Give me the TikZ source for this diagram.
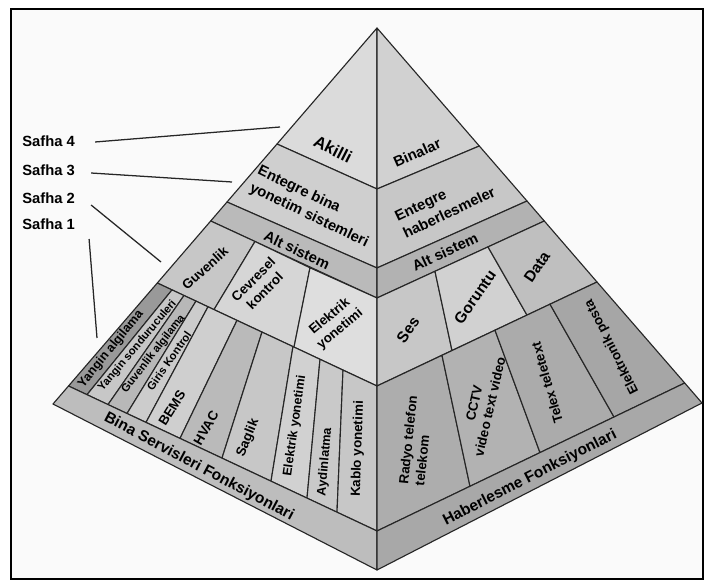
\documentclass[tikz,border=0pt]{standalone}
\usepackage{fontspec}
\setmainfont{Liberation Sans}
\tikzset{
  face/.style={fill=#1, draw=black!85, line width=0.8pt, line join=round},
  tag/.style={font=\fontsize{10.5}{13.5}\selectfont\bfseries, inner sep=0pt, align=center},
  small tag/.style={font=\fontsize{8}{9.5}\selectfont\bfseries, inner sep=0pt},
  mid tag/.style={font=\fontsize{9.5}{11.5}\selectfont\bfseries, inner sep=0pt, align=center},
  stage/.style={font=\fontsize{10.5}{12}\selectfont\bfseries, anchor=west, inner sep=0pt},
  leader/.style={draw=black!85, line width=0.9pt},
}

\begin{document}
\begin{tikzpicture}[x=0.025cm, y=-0.025cm]
  \useasboundingbox (0,0) rectangle (712,584);
  \draw[fill=black!2, line width=1.4pt] (11,9) rectangle (703,579);

  \coordinate (A) at (377,28);
  \coordinate (L) at (53,404);
  \coordinate (B) at (377,570);
  \coordinate (R) at (702,403);

  \coordinate (l1) at (277,144);
  \coordinate (l2) at (227,202);
  \coordinate (l3) at (210.7,221);
  \coordinate (l4) at (157.3,283);
  \coordinate (l5) at (68.5,386);
  \coordinate (c1) at (377,189);
  \coordinate (c2) at (377,268);
  \coordinate (c3) at (377,298);
  \coordinate (c4) at (377,386);
  \coordinate (c5) at (377,531);
  \coordinate (r1) at (479.3,146);
  \coordinate (r2) at (527,201);
  \coordinate (r3) at (544.3,221);
  \coordinate (r4) at (597,282);
  \coordinate (r5) at (684.7,383);

  % left face
  \draw[face=black!14] (A) -- (l1) -- (c1) -- cycle;
  \draw[face=black!19] (l1) -- (l2) -- (c2) -- (c1) -- cycle;
  \draw[face=black!27] (l2) -- (l3) -- (c3) -- (c2) -- cycle;
  \coordinate (g1t) at (255,241.5);
  \coordinate (g1b) at (214,309.6);
  \coordinate (g2t) at (310,267.8);
  \coordinate (g2b) at (294,347.1);
  \draw[face=black!22] (l3) -- (l4) -- (g1b) -- (g1t) -- cycle;
  \draw[face=black!16] (g1t) -- (g1b) -- (g2b) -- (g2t) -- cycle;
  \draw[face=black!13] (g2t) -- (g2b) -- (c4) -- (c3) -- cycle;

  \coordinate (p1) at (172,289.9);
  \coordinate (p2) at (184,295.5);
  \coordinate (p3) at (196,301.1);
  \coordinate (p4) at (208,306.8);
  \coordinate (p5) at (237,320.4);
  \coordinate (p6) at (262,332.1);
  \coordinate (p7) at (293,346.6);
  \coordinate (p8) at (320,359.3);
  \coordinate (p9) at (343,370.1);
  \coordinate (q1) at (87,394.7);
  \coordinate (q2) at (108,404.6);
  \coordinate (q3) at (127,413.5);
  \coordinate (q4) at (146,422.4);
  \coordinate (q5) at (180,438.4);
  \coordinate (q6) at (222,458.1);
  \coordinate (q7) at (271,481.2);
  \coordinate (q8) at (307,498.1);
  \coordinate (q9) at (337,512.2);
  \draw[face=black!40] (l4) -- (p1) -- (q1) -- (l5) -- cycle;
  \draw[face=black!22] (p1) -- (p2) -- (q2) -- (q1) -- cycle;
  \draw[face=black!28] (p2) -- (p3) -- (q3) -- (q2) -- cycle;
  \draw[face=black!20] (p3) -- (p4) -- (q4) -- (q3) -- cycle;
  \draw[face=black!19] (p4) -- (p5) -- (q5) -- (q4) -- cycle;
  \draw[face=black!27] (p5) -- (p6) -- (q6) -- (q5) -- cycle;
  \draw[face=black!22] (p6) -- (p7) -- (q7) -- (q6) -- cycle;
  \draw[face=black!18] (p7) -- (p8) -- (q8) -- (q7) -- cycle;
  \draw[face=black!21] (p8) -- (p9) -- (q9) -- (q8) -- cycle;
  \draw[face=black!22] (p9) -- (c4) -- (c5) -- (q9) -- cycle;
  \draw[face=black!26] (l5) -- (L) -- (B) -- (c5) -- cycle;

  % right face
  \coordinate (a1) at (435,271.3);
  \coordinate (a2) at (488,246.9);
  \coordinate (m1) at (452,350.5);
  \coordinate (m2) at (527,315.1);
  \coordinate (m3) at (442,355.3);
  \coordinate (m4) at (495,330.2);
  \coordinate (m5) at (550,304.2);
  \coordinate (h1) at (470,486.3);
  \coordinate (h2) at (540,452.6);
  \coordinate (h3) at (614,417);
  \draw[face=black!18] (A) -- (c1) -- (r1) -- cycle;
  \draw[face=black!22] (c1) -- (c2) -- (r2) -- (r1) -- cycle;
  \draw[face=black!30] (c2) -- (c3) -- (r3) -- (r2) -- cycle;
  \draw[face=black!22] (c3) -- (c4) -- (m1) -- (a1) -- cycle;
  \draw[face=black!18] (a1) -- (m1) -- (m2) -- (a2) -- cycle;
  \draw[face=black!25] (a2) -- (m2) -- (r4) -- (r3) -- cycle;
  \draw[face=black!32] (c4) -- (c5) -- (h1) -- (m3) -- cycle;
  \draw[face=black!30] (m3) -- (h1) -- (h2) -- (m4) -- cycle;
  \draw[face=black!33] (m4) -- (h2) -- (h3) -- (m5) -- cycle;
  \draw[face=black!35] (m5) -- (h3) -- (r5) -- (r4) -- cycle;
  \draw[face=black!34] (c5) -- (B) -- (R) -- (r5) -- cycle;

  % texts, left face
  \node[tag, font=\fontsize{12}{14}\selectfont\bfseries, rotate=-27] (akilli) at (333,149) {Akilli};
  \node[tag, align=left, rotate=-25.5] (entbina) at (313,207) {Entegre bina\\yonetim sistemleri};
  \node[tag, rotate=-25] (altL) at (297,250) {Alt sistem};
  \node[mid tag, rotate=42] (guvenlik) at (205,268) {Guvenlik};
  \node[mid tag, rotate=45] (cevresel) at (259,285) {Cevresel\\kontrol};
  \node[mid tag, rotate=40] (elekup) at (335,323) {Elektrik\\yonetimi};
  \node[small tag, font=\fontsize{9}{10}\selectfont\bfseries, rotate=51] (yangalg) at (111,349) {Yangin algilama};
  \node[small tag, rotate=50] (yangsond) at (137.5,346) {Yangin sonduruculeri};
  \node[small tag, rotate=52] (guvalg) at (153.5,354) {Guvenlik algilama};
  \node[small tag, rotate=55] (giris) at (169,361) {Giris Kontrol};
  \node[mid tag, rotate=58] (bems) at (172,408) {BEMS};
  \node[mid tag, rotate=60] (hvac) at (206,428) {HVAC};
  \node[mid tag, rotate=68] (saglik) at (248,438) {Saglik};
  \node[mid tag, font=\fontsize{9}{11}\selectfont\bfseries, rotate=82] (eleklow) at (295,426) {Elektrik yonetimi};
  \node[mid tag, font=\fontsize{9}{11}\selectfont\bfseries, rotate=85] (aydin) at (325,462) {Aydinlatma};
  \node[mid tag, rotate=88] (kablo) at (358,449) {Kablo yonetimi};
  \node[tag, font=\fontsize{11}{13}\selectfont\bfseries, rotate=-28] (binaserv) at (199,467) {Bina Servisleri Fonksiyonlari};

  % texts, right face
  \node[tag, rotate=24] (binalar) at (417,153) {Binalar};
  \node[tag, align=left, rotate=25.5] (enthab) at (445,204) {Entegre\\haberlesmeler};
  \node[tag, rotate=25] (altR) at (445,252) {Alt sistem};
  \node[tag, font=\fontsize{11}{13}\selectfont\bfseries, rotate=55] (ses) at (408,330) {Ses};
  \node[tag, font=\fontsize{11}{13}\selectfont\bfseries, rotate=55] (goruntu) at (475,297) {Goruntu};
  \node[tag, font=\fontsize{11}{13}\selectfont\bfseries, rotate=56] (data) at (537,267) {Data};
  \node[mid tag, align=left, rotate=84] (radyo) at (416,441) {Radyo telefon\\telekom};
  \node[mid tag, rotate=77] (cctv) at (482,405) {CCTV\\video text video};
  \node[mid tag, rotate=106] (telex) at (547,383) {Telex teletext};
  \node[mid tag, rotate=117] (eposta) at (612,347) {Elektronik posta};
  \node[tag, font=\fontsize{11}{13}\selectfont\bfseries, rotate=27] (haberfonk) at (530,478) {Haberlesme Fonksiyonlari};

  % stages
  \node[stage] (safha4) at (22,141) {Safha 4};
  \node[stage] (safha3) at (22,170) {Safha 3};
  \node[stage] (safha2) at (22,198) {Safha 2};
  \node[stage] (safha1) at (22,224) {Safha 1};
  \coordinate (s4end) at (280,127);
  \coordinate (s3end) at (232,182);
  \coordinate (s2end) at (161,262);
  \coordinate (s1end) at (97,338);
  \draw[leader] (safha4.east) ++(20,1) -- (s4end);
  \draw[leader] (safha3.east) ++(16,3) -- (s3end);
  \draw[leader] (safha2.east) ++(16,7) -- (s2end);
  \draw[leader] (safha1.east) ++(14,15) -- (s1end);
\end{tikzpicture}
\end{document}
